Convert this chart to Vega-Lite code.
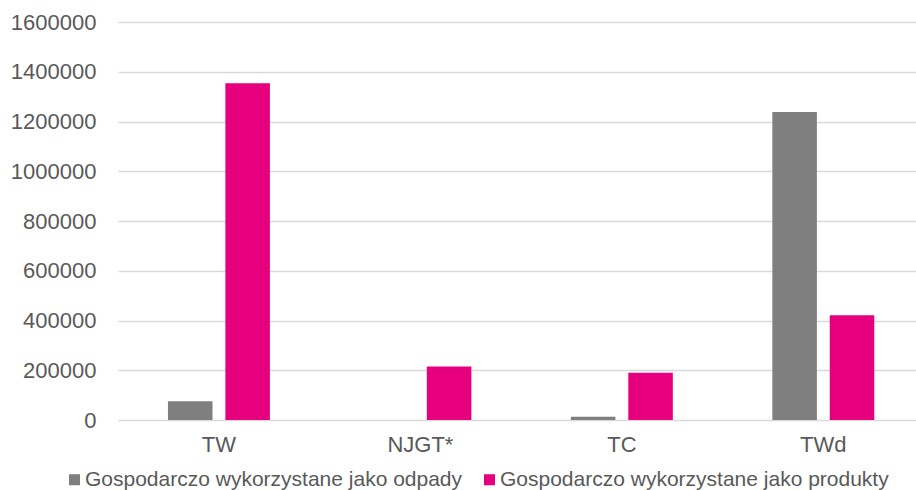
{
  "$schema": "https://vega.github.io/schema/vega-lite/v6.json",
  "width": 798,
  "height": 398,
  "autosize": {"type": "none"},
  "padding": {"left": 118, "top": 22, "right": 0, "bottom": 70},
  "background": "white",
  "config": {
    "view": {"stroke": null},
    "font": "Liberation Sans"
  },
  "data": {
    "values": [
      {"kategoria": "TW", "seria": "Gospodarczo wykorzystane jako odpady", "wartosc": 75000},
      {"kategoria": "TW", "seria": "Gospodarczo wykorzystane jako produkty", "wartosc": 1354000},
      {"kategoria": "NJGT*", "seria": "Gospodarczo wykorzystane jako odpady", "wartosc": 0},
      {"kategoria": "NJGT*", "seria": "Gospodarczo wykorzystane jako produkty", "wartosc": 215000},
      {"kategoria": "TC", "seria": "Gospodarczo wykorzystane jako odpady", "wartosc": 13000},
      {"kategoria": "TC", "seria": "Gospodarczo wykorzystane jako produkty", "wartosc": 190000},
      {"kategoria": "TWd", "seria": "Gospodarczo wykorzystane jako odpady", "wartosc": 1238000},
      {"kategoria": "TWd", "seria": "Gospodarczo wykorzystane jako produkty", "wartosc": 421000}
    ]
  },
  "mark": {"type": "bar"},
  "encoding": {
    "x": {
      "field": "kategoria",
      "type": "nominal",
      "sort": ["TW", "NJGT*", "TC", "TWd"],
      "scale": {"paddingInner": 0.494, "paddingOuter": 0.2275, "align": 0.545},
      "axis": {
        "title": null,
        "labelAngle": 0,
        "labelFontSize": 22,
        "labelColor": "#595959",
        "labelPadding": 14,
        "ticks": false,
        "domain": false,
        "grid": false
      }
    },
    "xOffset": {
      "field": "seria",
      "type": "nominal",
      "scale": {"paddingInner": 0.224, "paddingOuter": 0}
    },
    "y": {
      "field": "wartosc",
      "type": "quantitative",
      "scale": {"domain": [0, 1600000], "nice": false},
      "axis": {
        "title": null,
        "values": [0, 200000, 400000, 600000, 800000, 1000000, 1200000, 1400000, 1600000],
        "format": "d",
        "labelFontSize": 22,
        "labelColor": "#595959",
        "labelPadding": 22,
        "ticks": false,
        "domain": false,
        "grid": true,
        "gridColor": "#d9d9d9",
        "gridWidth": 1.3
      }
    },
    "color": {
      "field": "seria",
      "type": "nominal",
      "scale": {
        "domain": ["Gospodarczo wykorzystane jako odpady", "Gospodarczo wykorzystane jako produkty"],
        "range": ["#7f7f7f", "#e6007e"]
      },
      "legend": {
        "title": null,
        "orient": "none",
        "legendX": -54,
        "legendY": 447,
        "direction": "horizontal",
        "symbolType": "square",
        "symbolSize": 121,
        "symbolStrokeWidth": 0,
        "labelFontSize": 21,
        "labelColor": "#595959",
        "labelOffset": 0,
        "columnPadding": 16,
        "labelLimit": 500
      }
    }
  }
}
